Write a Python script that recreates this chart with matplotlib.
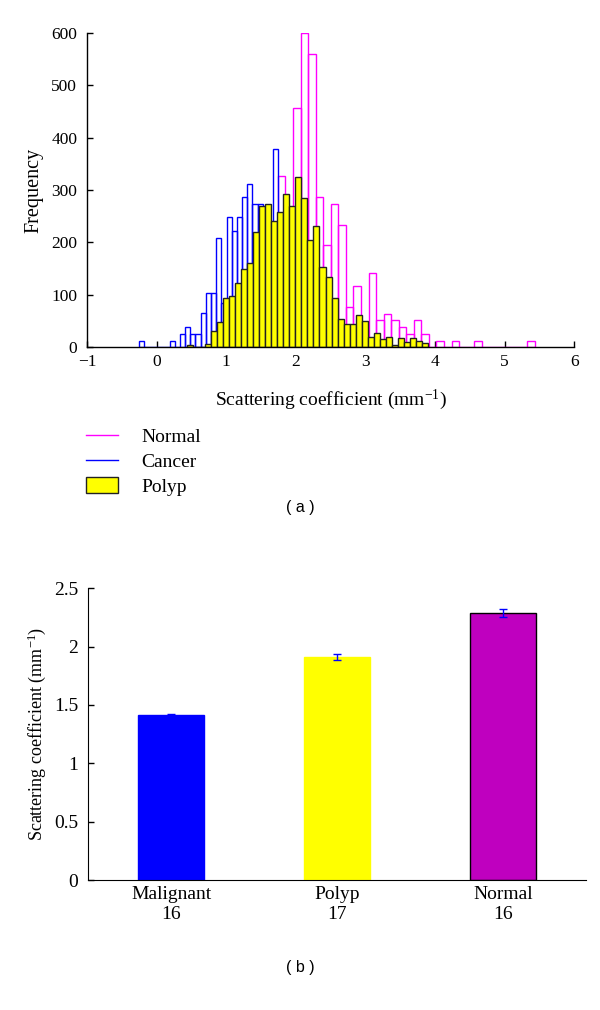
import matplotlib
matplotlib.use("Agg")
import matplotlib.pyplot as plt
from matplotlib.lines import Line2D
from matplotlib.patches import Patch
import numpy as np

# ---------------- data: histogram (a) ----------------
# Normal (magenta outline)
normal_start = 1.743
normal_width = 0.1085
normal_counts = [326, 250, 456, 600, 560, 287, 195, 274, 234, 77, 116, 18,
                 142, 51, 64, 51, 39, 25, 51, 25, 0, 11, 0, 11, 0, 0, 11,
                 0, 0, 0, 0, 0, 0, 11]
# Cancer (blue outline)
cancer_start = -0.260
cancer_width = 0.0744
cancer_counts = [12, 0, 0, 0, 0, 0, 12, 0, 25, 39, 25, 25, 65, 104, 104, 209,
                 85, 248, 222, 248, 287, 312, 274, 274, 200, 230, 378]
# Polyp (yellow filled)
polyp_start = 0.433
polyp_width = 0.0867
polyp_counts = [3, 0, 0, 6, 30, 48, 93, 97, 123, 150, 161, 220, 270, 274, 240,
                258, 292, 270, 325, 285, 204, 231, 153, 133, 93, 53, 44, 44,
                62, 50, 20, 26, 15, 20, 3, 17, 10, 17, 11, 8]

hist_xticks = [-1, 0, 1, 2, 3, 4, 5, 6]
hist_yticks = [0, 100, 200, 300, 400, 500, 600]
legend_labels = ["Normal", "Cancer", "Polyp"]

# ---------------- data: bar chart (b) ----------------
groups = ["Malignant", "Polyp", "Normal"]
group_n = [16, 17, 16]
means = [1.41, 1.91, 2.29]
errs = [0.013, 0.027, 0.034]
bar_colors = ["#0000FF", "#FFFF00", "#BF00BF"]
bar_edges = ["#0000FF", "#FFFF00", "#000000"]
bar_yticks = [0, 0.5, 1, 1.5, 2, 2.5]
bar_yticklabels = ["0", "0.5", "1", "1.5", "2", "2.5"]

plt.rcParams["font.family"] = ["Liberation Serif", "DejaVu Serif"]
plt.rcParams["mathtext.default"] = "regular"

fig = plt.figure(figsize=(6.0, 10.1), dpi=100)

# ---------------- (a) histogram ----------------
ax1 = fig.add_axes([0.145, 0.6564, 0.812, 0.311])


def edges(start, width, n):
    return start + width * np.arange(n)


ax1.bar(edges(normal_start, normal_width, len(normal_counts)), normal_counts,
        width=normal_width, align="edge", fill=False, edgecolor="#FF00FF",
        linewidth=1.0, zorder=2)
ax1.bar(edges(cancer_start, cancer_width, len(cancer_counts)), cancer_counts,
        width=cancer_width, align="edge", fill=False, edgecolor="#0000FF",
        linewidth=1.0, zorder=3)
ax1.bar(edges(polyp_start, polyp_width, len(polyp_counts)), polyp_counts,
        width=polyp_width, align="edge", facecolor="#FFFF00",
        edgecolor="#222222", linewidth=1.0, zorder=4)

ax1.set_xlim(-1, 6)
ax1.set_ylim(0, 600)
ax1.set_xticks(hist_xticks)
ax1.set_xticklabels(["\u2212" + str(-t) if t < 0 else str(t) for t in hist_xticks])
ax1.set_yticks(hist_yticks)
for s in ["top", "right"]:
    ax1.spines[s].set_visible(False)
for s in ["left", "bottom"]:
    ax1.spines[s].set_linewidth(1.0)
    ax1.spines[s].set_zorder(6)
ax1.tick_params(direction="in", length=4, width=1, labelsize=12.5)
ax1.tick_params(axis="y", pad=7)
ax1.tick_params(axis="x", pad=5)
ax1.set_xlabel("Scattering coefficient (mm$^{-1}$)", fontsize=14, labelpad=13)
ax1.set_ylabel("Frequency", fontsize=14.5, labelpad=6)

handles = [Line2D([], [], color="#FF00FF", linewidth=1.0),
           Line2D([], [], color="#0000FF", linewidth=1.0),
           Patch(facecolor="#FFFF00", edgecolor="#222222", linewidth=1.0)]
ax1.legend(handles, legend_labels, loc="upper left",
           bbox_to_anchor=(0.143, 0.577), bbox_transform=fig.transFigure,
           frameon=False, borderaxespad=0, borderpad=0, fontsize=14,
           handlelength=1.65, handleheight=0.87, handletextpad=1.2,
           labelspacing=0.33)

fig.text(0.5, 0.498, "( a )", ha="center", va="center", fontsize=11.5,
         family=["Liberation Sans", "DejaVu Sans"])

# ---------------- (b) bar chart ----------------
ax2 = fig.add_axes([0.1467, 0.1287, 0.83, 0.289])
xpos = np.arange(1, len(groups) + 1)
ax2.bar(xpos, means, width=0.4, color=bar_colors, edgecolor=bar_edges,
        linewidth=1.0, zorder=2)
ax2.errorbar(xpos, means, yerr=errs, fmt="none", ecolor="#0000FF",
             elinewidth=1.0, capsize=3, capthick=1.0, zorder=3)
ax2.set_xlim(0.5, 3.5)
ax2.set_ylim(0, 2.5)
ax2.set_yticks(bar_yticks)
ax2.set_yticklabels(bar_yticklabels)
ax2.set_xticks(xpos)
ax2.set_xticklabels([f"{g}\n{n}" for g, n in zip(groups, group_n)],
                    linespacing=1.3)
for s in ["top", "right"]:
    ax2.spines[s].set_visible(False)
ax2.tick_params(direction="in", length=4, width=1, labelsize=14)
ax2.tick_params(axis="x", length=0, pad=4)
ax2.tick_params(axis="y", pad=7)
ax2.set_ylabel("Scattering coefficient (mm$^{-1}$)", fontsize=13, labelpad=4)

fig.text(0.5, 0.0416, "( b )", ha="center", va="center", fontsize=11.5,
         family=["Liberation Sans", "DejaVu Sans"])

fig.savefig("out.png", dpi=100)
